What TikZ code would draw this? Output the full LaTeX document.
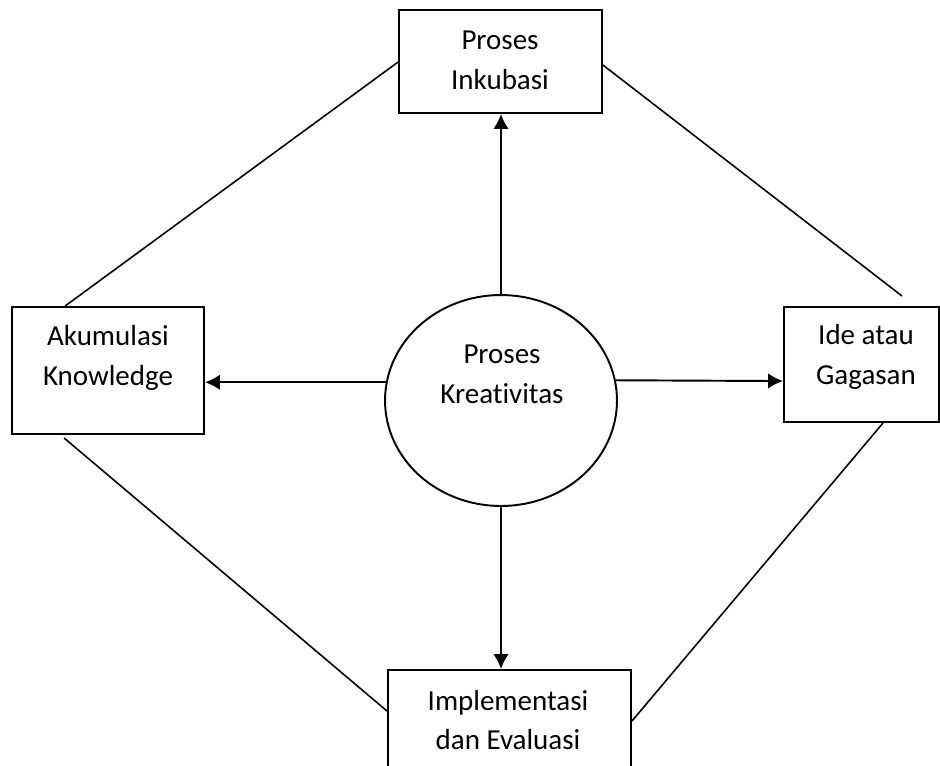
\documentclass[tikz,border=0pt]{standalone}
\usepackage{fontspec}
\setmainfont{Carlito}[Ligatures=NoCommon]
\usetikzlibrary{shapes.geometric,arrows.meta,calc}

\tikzset{
  kotak/.style={draw,rectangle,line width=1.1pt,inner sep=0pt},
  lonjong/.style={draw,ellipse,line width=1.1pt,inner sep=0pt},
  teks/.style={align=center,inner sep=0pt,font=\fontsize{16.5}{22.7}\selectfont},
  panah/.style={-{Latex[length=3mm,width=3.1mm]},line width=1.1pt},
  garis/.style={line width=0.9pt}
}

\begin{document}
\begin{tikzpicture}[x=0.02cm,y=-0.02cm]
\useasboundingbox (0,0) rectangle (940,765);
% kotak dan lingkaran
\node[kotak,minimum width=4.06cm,minimum height=2.06cm] (inc) at (500.5,61.5) {};
\node[kotak,minimum width=3.84cm,minimum height=2.54cm] (ak) at (108,370.5) {};
\node[kotak,minimum width=3.1cm,minimum height=2.3cm] (ide) at (861.5,364.5) {};
\node[kotak,minimum width=4.86cm,minimum height=2.6cm] (impl) at (509.5,735) {};
\node[lonjong,minimum width=4.64cm,minimum height=4.22cm] (kre) at (501,400.5) {};
% tulisan
\node[teks] (inc-t) at (500,60) {Proses\\Inkubasi};
\node[teks] (ak-t) at (108,357.5) {Akumulasi\\Knowledge};
\node[teks] (ide-t) at (866,357) {Ide atau\\Gagasan};
\node[teks] (kre-t) at (502,374) {Proses\\Kreativitas};
\node[teks] (impl-t) at (508,720) {Implementasi\\dan Evaluasi};
% panah
\draw[panah] (kre.north) -- (kre.north |- inc.south);
\draw[panah] (kre.south) -- (kre.south |- impl.north);
\draw[panah] (kre.171) -- (kre.171 -| ak.east);
\draw[panah] (kre.10) -- ($(ide.north west)+(0,75)$);
% garis luar
\coordinate (tr-ujung) at (902,296);
\draw[garis] ($(inc.north west)+(0,53)$) -- ($(ak.north west)+(54,0)$);
\draw[garis] ($(inc.north east)+(0,56)$) -- (tr-ujung);
\draw[garis] ($(ak.south west)+(53,3)$) -- ($(impl.north west)+(0,42)$);
\draw[garis] ($(ide.south west)+(100,0)$) -- ($(impl.north east)+(0,52)$);
\end{tikzpicture}
\end{document}
